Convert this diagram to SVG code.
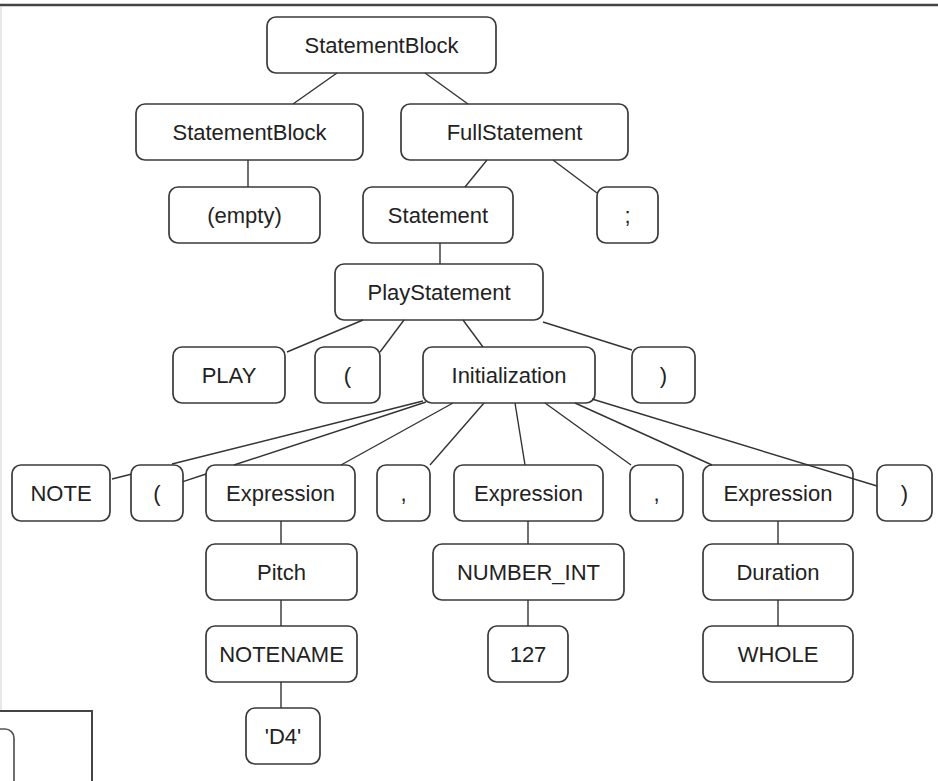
<svg xmlns="http://www.w3.org/2000/svg" width="938" height="781" viewBox="0 0 938 781">
<style>
.n rect{fill:#fff;stroke:#3a3a3a;stroke-width:1.7}
.n text{font-family:"Liberation Sans",Arial,sans-serif;font-size:22px;fill:#222;text-anchor:middle}
#edges line,#edges path{stroke:#333;stroke-width:1.4;fill:none}
.frame{stroke:#444;fill:none}
</style>
<rect width="938" height="781" fill="#fff"/>
<line class="frame" x1="0" y1="5" x2="938" y2="5" stroke-width="2.5"/>
<line x1="1" y1="7" x2="1" y2="710" stroke="#d0d0d0" stroke-width="1"/>
<polyline class="frame" points="0,711 92,711 92,781" stroke-width="2"/>
<rect x="-20" y="729" width="34" height="80" rx="9" fill="#fff" stroke="#555" stroke-width="1.7"/>
<g id="root" class="n"><rect x="267" y="17" width="229" height="56" rx="9"/><text x="381.5" y="53">StatementBlock</text></g>
<g id="sb2" class="n"><rect x="136" y="104" width="227" height="56" rx="9"/><text x="249.5" y="140">StatementBlock</text></g>
<g id="full" class="n"><rect x="401" y="104" width="227" height="56" rx="9"/><text x="514.5" y="140">FullStatement</text></g>
<g id="empty" class="n"><rect x="169" y="187" width="151" height="56" rx="9"/><text x="244.5" y="223">(empty)</text></g>
<g id="stmt" class="n"><rect x="363" y="187" width="150" height="56" rx="9"/><text x="438" y="223">Statement</text></g>
<g id="semi" class="n"><rect x="597" y="187" width="61" height="56" rx="9"/><text x="627.5" y="223">;</text></g>
<g id="play" class="n"><rect x="335" y="264" width="208" height="56" rx="9"/><text x="439" y="300">PlayStatement</text></g>
<g id="PLAY" class="n"><rect x="173" y="347" width="112" height="56" rx="9"/><text x="229" y="383">PLAY</text></g>
<g id="lp1" class="n"><rect x="315" y="347" width="65" height="56" rx="9"/><text x="347.5" y="383">(</text></g>
<g id="init" class="n"><rect x="423" y="347" width="172" height="56" rx="9"/><text x="509" y="383">Initialization</text></g>
<g id="rp1" class="n"><rect x="632" y="347" width="63" height="56" rx="9"/><text x="663.5" y="383">)</text></g>
<g id="note" class="n"><rect x="12" y="465" width="98" height="56" rx="9"/><text x="61" y="501">NOTE</text></g>
<g id="lp2" class="n"><rect x="131" y="465" width="52" height="56" rx="9"/><text x="157" y="501">(</text></g>
<g id="exp1" class="n"><rect x="206" y="465" width="149" height="56" rx="9"/><text x="280.5" y="501">Expression</text></g>
<g id="c1" class="n"><rect x="377" y="465" width="53" height="56" rx="9"/><text x="403.5" y="501">,</text></g>
<g id="exp2" class="n"><rect x="454" y="465" width="149" height="56" rx="9"/><text x="528.5" y="501">Expression</text></g>
<g id="c2" class="n"><rect x="630" y="465" width="53" height="56" rx="9"/><text x="656.5" y="501">,</text></g>
<g id="exp3" class="n"><rect x="703" y="465" width="150" height="56" rx="9"/><text x="778" y="501">Expression</text></g>
<g id="rp2" class="n"><rect x="877" y="465" width="55" height="56" rx="9"/><text x="904.5" y="501">)</text></g>
<g id="pitch" class="n"><rect x="206" y="544" width="151" height="56" rx="9"/><text x="281.5" y="580">Pitch</text></g>
<g id="numint" class="n"><rect x="433" y="544" width="191" height="56" rx="9"/><text x="528.5" y="580">NUMBER_INT</text></g>
<g id="dur" class="n"><rect x="703" y="544" width="150" height="56" rx="9"/><text x="778" y="580">Duration</text></g>
<g id="notename" class="n"><rect x="206" y="626" width="151" height="56" rx="9"/><text x="281.5" y="662">NOTENAME</text></g>
<g id="n127" class="n"><rect x="488" y="626" width="80" height="56" rx="9"/><text x="528" y="662">127</text></g>
<g id="whole" class="n"><rect x="703" y="626" width="150" height="56" rx="9"/><text x="778" y="662">WHOLE</text></g>
<g id="d4" class="n"><rect x="246" y="708" width="74" height="56" rx="9"/><text x="283" y="744">'D4'</text></g>
<g id="edges">
<line x1="337" y1="73" x2="293" y2="104"/>
<line x1="425" y1="73" x2="468" y2="104"/>
<line x1="248" y1="160" x2="248" y2="187"/>
<line x1="487" y1="160" x2="465" y2="187"/>
<line x1="553" y1="160" x2="597" y2="193"/>
<line x1="440" y1="243" x2="440" y2="264"/>
<line x1="363" y1="320" x2="287" y2="352"/>
<line x1="404" y1="320" x2="380" y2="352"/>
<line x1="463" y1="320" x2="483" y2="347"/>
<line x1="543" y1="322" x2="632" y2="350"/>
<path d="M423,401 L172,464 M131,474.3 L112,479"/>
<path d="M426,402 L234,465 M206,474 L183,481.6"/>
<line x1="453" y1="403" x2="341" y2="465"/>
<line x1="484" y1="403" x2="430" y2="465"/>
<line x1="515" y1="403" x2="525" y2="465"/>
<line x1="545" y1="403" x2="631" y2="465"/>
<line x1="575" y1="403" x2="712" y2="465"/>
<line x1="592" y1="399" x2="877" y2="486"/>
<line x1="281" y1="521" x2="281" y2="544"/>
<line x1="528" y1="521" x2="528" y2="544"/>
<line x1="778" y1="521" x2="778" y2="544"/>
<line x1="281" y1="600" x2="281" y2="626"/>
<line x1="528" y1="600" x2="528" y2="626"/>
<line x1="778" y1="600" x2="778" y2="626"/>
<line x1="281" y1="682" x2="281" y2="708"/>
</g>
</svg>
